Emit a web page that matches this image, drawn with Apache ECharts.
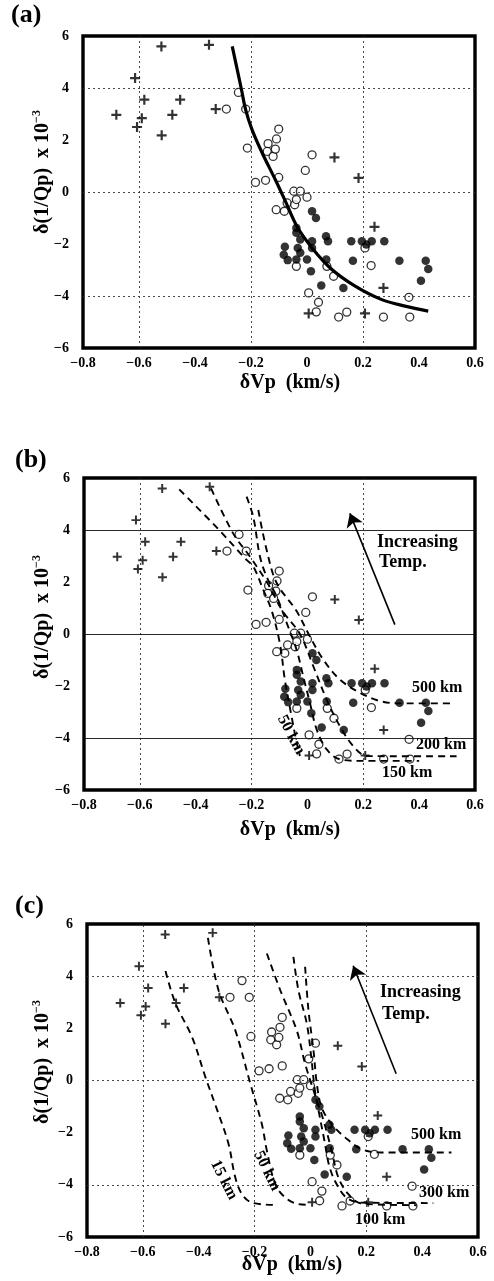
<!DOCTYPE html>
<html><head><meta charset="utf-8">
<script src="https://cdn.jsdelivr.net/npm/echarts@6/dist/echarts.min.js"></script>
<style>html,body{margin:0;padding:0;background:#fff}#c{width:494px;height:1281px}</style>
</head><body><div id="c"></div>
<script>
// ---- data (δVp km/s, δ(1/Qp) x1e-3) ----
const plusPts = [[-0.681,2.97],[-0.614,4.38],[-0.607,2.50],[-0.590,2.84],[-0.581,3.55],[-0.520,5.60],[-0.519,2.18],[-0.481,2.97],[-0.453,3.55],[-0.350,5.66],[-0.326,3.19],[0.098,1.33],[0.184,0.54],[0.241,-1.34],[0.273,-3.69],[0.006,-4.67],[0.207,-4.67]];
const openPts = [[-0.245,3.83],[-0.288,3.19],[-0.219,3.19],[-0.213,1.69],[-0.184,0.37],[-0.148,0.45],[-0.139,1.86],[-0.142,1.56],[-0.121,1.37],[-0.113,1.65],[-0.109,2.04],[-0.101,2.42],[-0.101,0.56],[-0.110,-0.68],[-0.081,-0.74],[-0.071,-0.42],[-0.047,0.03],[-0.044,-0.49],[-0.038,-0.29],[-0.024,0.03],[-0.006,0.83],[0.000,-0.20],[0.018,1.43],[-0.038,-2.86],[0.006,-3.88],[0.041,-4.24],[0.033,-4.61],[0.071,-2.86],[0.095,-3.24],[0.113,-4.81],[0.142,-4.62],[0.207,-2.15],[0.229,-2.83],[0.273,-4.81],[0.364,-4.05],[0.367,-4.81]];
const filledPts = [[0.018,-0.74],[0.032,-1.00],[-0.038,-1.38],[-0.038,-1.57],[-0.024,-1.83],[-0.079,-2.11],[-0.083,-2.41],[-0.069,-2.62],[-0.033,-2.15],[-0.024,-2.34],[-0.038,-2.60],[0.000,-2.60],[0.018,-1.89],[0.018,-2.15],[0.014,-3.05],[0.051,-3.60],[0.068,-1.70],[0.075,-1.89],[0.069,-2.60],[0.130,-3.69],[0.158,-1.89],[0.164,-2.64],[0.196,-1.89],[0.212,-2.02],[0.231,-1.89],[0.276,-1.89],[0.330,-2.64],[0.424,-2.64],[0.433,-2.96],[0.407,-3.41]];

// (a) fitted curve
const curveA = [[-0.267,5.60],[-0.235,3.99],[-0.219,3.16],[-0.196,2.39],[-0.160,1.50],[-0.113,0.47],[-0.077,-0.36],[-0.036,-1.32],[0.018,-2.15],[0.089,-2.98],[0.172,-3.62],[0.267,-4.14],[0.350,-4.39],[0.433,-4.58]];
// (b) model curves
const b50km  = [[-0.459,5.56],[-0.325,4.10],[-0.218,2.85],[-0.194,2.60],[-0.158,1.70],[-0.128,0.90],[-0.098,-0.40],[-0.081,-1.75],[-0.057,-3.16],[-0.040,-4.10],[-0.027,-4.69]];
const b150km = [[-0.218,5.28],[-0.194,4.51],[-0.170,2.98],[-0.146,2.20],[-0.110,1.44],[-0.074,0.42],[-0.039,-0.60],[-0.015,-1.63],[0.009,-2.65],[0.033,-3.67],[0.069,-4.44],[0.116,-4.82],[0.200,-4.88],[0.400,-4.88]];
const b200km = [[-0.345,5.60],[-0.266,3.87],[-0.206,2.98],[-0.140,1.90],[-0.090,0.90],[-0.027,0.00],[0.021,-1.24],[0.069,-2.52],[0.116,-3.54],[0.164,-4.31],[0.212,-4.69],[0.300,-4.70],[0.534,-4.70]];
const b500km = [[-0.176,4.77],[-0.146,3.23],[-0.110,1.96],[-0.040,0.90],[0.009,-0.10],[0.057,-0.99],[0.116,-1.75],[0.188,-2.26],[0.260,-2.58],[0.330,-2.67],[0.522,-2.67]];
// (c) model curves
const c15km  = [[-0.519,4.20],[-0.483,2.95],[-0.424,1.67],[-0.376,0.13],[-0.329,-1.28],[-0.293,-2.44],[-0.269,-3.72],[-0.245,-4.36],[-0.210,-4.68],[-0.126,-4.77]];
const c50km  = [[-0.367,5.47],[-0.329,3.46],[-0.269,1.92],[-0.215,-0.13],[-0.174,-1.67],[-0.156,-2.69],[-0.126,-3.97],[-0.090,-4.49],[-0.043,-4.74],[0.000,-4.77]];
const c100km = [[-0.156,4.87],[-0.108,3.46],[-0.049,1.92],[-0.019,0.64],[0.011,-0.38],[0.046,-1.50],[0.076,-2.69],[0.100,-3.72],[0.136,-4.36],[0.183,-4.72],[0.380,-4.78]];
const c300km = [[-0.061,4.74],[-0.043,3.46],[-0.013,2.18],[0.003,0.90],[0.015,-0.30],[0.030,-1.20],[0.050,-2.30],[0.068,-3.30],[0.095,-4.00],[0.130,-4.50],[0.180,-4.68],[0.440,-4.70]];
const c500km = [[-0.019,4.36],[-0.007,2.69],[0.011,1.15],[0.023,-0.13],[0.040,-1.03],[0.076,-1.67],[0.124,-2.18],[0.183,-2.63],[0.255,-2.76],[0.505,-2.76]];
// "Increasing Temp." arrows [tail, head]
const arrowB = [[0.313,0.36],[0.152,4.64]];
const arrowC = [[0.307,0.26],[0.153,4.40]];
// axes
const xRange = [-0.8, 0.6], xStep = 0.2;
const yRange = [-6, 6], yStep = 2;
const xGridLines = [-0.6, -0.2, 0.2];
const yGridLines = [4, 0, -4];

// ---- chart ----
const FONT = "'Liberation Serif','DejaVu Serif',serif";
const chart = echarts.init(document.getElementById('c'));
const grids = [
  {left:83, top:36, width:392, height:312},
  {left:84, top:478, width:391, height:312},
  {left:87, top:924, width:391, height:313}
];
const fmt = v => { if (Math.abs(v) < 1e-9) return '0'; return (v < 0 ? '\u2212' : '') + Math.abs(v).toFixed(1); };
const fmtY = v => (v < 0 ? '\u2212' : '') + Math.abs(Math.round(v));
const PLUS = 'path://M0,3.9H10V6.1H0Z M3.9,0H6.1V10H3.9Z';

const xAxes = [], yAxes = [], series = [];
const panelCurves = [[curveA], [b50km, b150km, b200km, b500km], [c15km, c50km, c100km, c300km, c500km]];
const arrows = [null, arrowB, arrowC];
grids.forEach((g, i) => {
  g.show = true; g.borderColor = '#000'; g.borderWidth = 3.4; g.backgroundColor = 'transparent';
  xAxes.push({gridIndex:i, type:'value', min:xRange[0], max:xRange[1], interval:xStep,
    axisLine:{show:false}, axisTick:{show:false}, splitLine:{show:false},
    axisLabel:{formatter:fmt, fontFamily:FONT, fontWeight:'bold', fontSize:14, color:'#000', margin:8, showMinLabel:true, showMaxLabel:true}});
  yAxes.push({gridIndex:i, type:'value', min:yRange[0], max:yRange[1], interval:yStep,
    axisLine:{show:false}, axisTick:{show:false}, splitLine:{show:false},
    axisLabel:{formatter:fmtY, fontFamily:FONT, fontWeight:'bold', fontSize:14, color:'#000', margin:14}});
  const hStyle = i === 1 ? {type:'solid', color:'#111', width:0.9} : {type:[2,3], color:'#333', width:0.9};
  series.push({type:'scatter', xAxisIndex:i, yAxisIndex:i, data:[], silent:true, z:1,
    markLine:{silent:true, symbol:['none','none'], label:{show:false}, animation:false,
      lineStyle:{color:'#333', width:0.9, type:[2,3]},
      data:[...xGridLines.map(v => ({xAxis:v})), ...yGridLines.map(v => ({yAxis:v, lineStyle:hStyle}))]}});
  series.push({type:'scatter', xAxisIndex:i, yAxisIndex:i, data:openPts, symbol:'circle', symbolSize:8,
    itemStyle:{color:'#fff', borderColor:'#000', borderWidth:1.3}, z:3});
  series.push({type:'scatter', xAxisIndex:i, yAxisIndex:i, data:filledPts, symbol:'circle', symbolSize:8.5,
    itemStyle:{color:'#000'}, z:4});
  series.push({type:'scatter', xAxisIndex:i, yAxisIndex:i, data:plusPts, symbol:PLUS, symbolSize: i === 0 ? 10 : 9,
    itemStyle:{color:'#000'}, z:5});
  panelCurves[i].forEach(c => series.push({type:'line', xAxisIndex:i, yAxisIndex:i, data:c, smooth:0.35,
    showSymbol:false, silent:true, z:6,
    lineStyle:{color:'#000', width: i === 0 ? 3.2 : 1.9, type: i === 0 ? 'solid' : [7,5]}}));
  if (arrows[i]) series.push({type:'lines', coordinateSystem:'cartesian2d', xAxisIndex:i, yAxisIndex:i,
    symbol:['none','arrow'], symbolSize:13, silent:true, z:6,
    lineStyle:{color:'#000', width:1.6, opacity:1, curveness:0},
    data:[{coords:arrows[i]}]});
});

const T = (x, y, text, size, extra) => Object.assign({type:'text', x, y, silent:true,
  style:Object.assign({text, fontFamily:FONT, fontWeight:'bold', fontSize:size, fill:'#000', align:'left', verticalAlign:'middle'}, extra || {})});
const yTitle = (x, y) => ({type:'text', x, y, rotation:Math.PI/2, silent:true,
  style:{text:'{m|\u03b4(1/Qp)  x 10}{s|\u22123}', align:'center', verticalAlign:'middle',
    rich:{m:{fontFamily:FONT, fontWeight:'bold', fontSize:20, fill:'#000', lineHeight:24},
          s:{fontFamily:FONT, fontWeight:'bold', fontSize:12, fill:'#000', verticalAlign:'top'}}}});
const xTitle = (x, y) => T(x, y, '\u03b4Vp  (km/s)', 20, {align:'center'});
const rot = d => d * Math.PI / 180;

const graphic = [
  T(11, 15, '(a)', 26), T(15, 460, '(b)', 26), T(15, 906, '(c)', 26),
  yTitle(43, 172), yTitle(43, 617), yTitle(43, 1062),
  xTitle(290, 383), xTitle(290, 830), xTitle(292, 1265),
  // panel (b)
  T(377, 542, 'Increasing', 18), T(379, 562, 'Temp.', 18),
  T(412, 688, '500 km', 16), T(416, 745, '200 km', 16), T(382, 773, '150 km', 16),
  Object.assign(T(291, 735, '50 km', 16, {align:'center'}), {rotation:rot(-62)}),
  // panel (c)
  T(380, 992, 'Increasing', 18), T(382, 1014, 'Temp.', 18),
  T(411, 1135, '500 km', 16), T(419, 1193, '300 km', 16), T(355, 1220, '100 km', 16),
  Object.assign(T(267, 1171, '50 km', 16, {align:'center'}), {rotation:rot(-64)}),
  Object.assign(T(224, 1180, '15 km', 16, {align:'center'}), {rotation:rot(-63)})
];

chart.setOption({backgroundColor:'#fff', animation:false, grid:grids, xAxis:xAxes, yAxis:yAxes, series, graphic});
</script></body></html>
